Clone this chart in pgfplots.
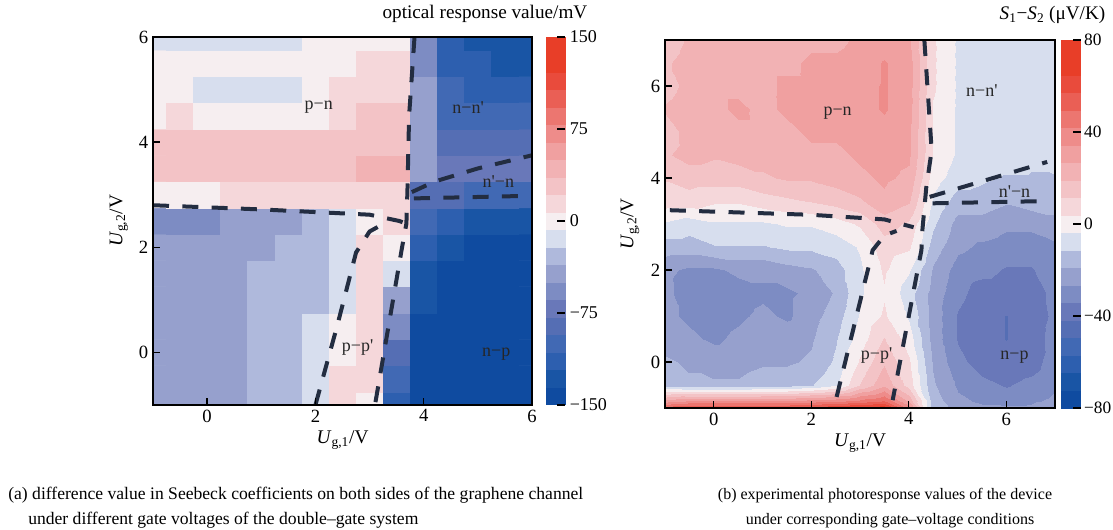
\documentclass[border=0pt]{standalone}
\usepackage{fontspec}
\setmainfont{Liberation Serif}
\usepackage{pgfplots}
\pgfplotsset{compat=1.18}
\definecolor{navy}{RGB}{35,45,65}
\pgfplotsset{colormap={rb}{rgb255=(15,75,160) rgb255=(25,85,165) rgb255=(45,95,175) rgb255=(65,105,180) rgb255=(85,110,180) rgb255=(105,120,185) rgb255=(125,140,195) rgb255=(150,160,205) rgb255=(175,185,220) rgb255=(215,222,238) rgb255=(246,238,240) rgb255=(245,215,218) rgb255=(243,195,198) rgb255=(242,178,180) rgb255=(240,160,160) rgb255=(238,140,138) rgb255=(236,118,112) rgb255=(234,95,85) rgb255=(233,75,60) rgb255=(232,62,40) rgb255=(232,62,40)}}
\tikzset{rl/.style={font=\fontsize{13.5}{15}\selectfont, text=black!85}}
\newcommand{\q}{\textquotesingle}
\newcommand{\lf}{\fontsize{14.5}{16}\selectfont}
\pgfplotsset{
 heat/.style={scale only axis, enlargelimits=false, axis on top,
  axis line style={line width=1.2pt}, tick align=inside, xtick pos=bottom, ytick pos=left,
  major tick length=5pt, tick style={black, line width=1pt},
  ticklabel style={font=\fontsize{14}{16}\selectfont},
  colormap name=rb, colormap access=piecewise constant,
  colorbar, colorbar shift/.style={xshift=3.75pt},
  xtick={0,2,4,6}, xticklabels={0,2,4,6}, ytick={0,2,4,6}, yticklabels={0,2,4,6},
  xlabel={\lf\textit{U}\textsubscript{g,1}/V}, ylabel={\lf\textit{U}\textsubscript{g,2}/V},
  every axis x label/.style={at={(axis description cs:0.5,-0.095)}, anchor=center, font=\lf},
 },
 dl/.style={draw=navy, line width=3pt, dash pattern=on 12pt off 10pt, no marks},
}
\begin{document}
\begin{tikzpicture}
\path[use as bounding box] (0,0) rectangle (834.75pt,-397.5pt);
% ---------------- (a) ----------------
\begin{axis}[heat, at={(114.75pt,-303.75pt)}, anchor=south west, width=284.25pt, height=276pt,
  xmin=-1, xmax=6, ymin=-1, ymax=6, point meta min=-150, point meta max=150,
  every axis y label/.style={at={(axis description cs:-0.09,0.5)}, rotate=90, anchor=center, font=\lf},
  colorbar style={width=14.25pt, ytick={-150,-75,0,75,150}, yticklabels={−150,−75,0,75,150},
    ytick pos=right, tick align=inside, major tick length=6pt, tick style={black, line width=1.2pt},
    yticklabel style={font=\fontsize{13.5}{16}\selectfont}, axis line style={draw=none}}]
\addplot[matrix plot*, mesh/cols=15, point meta=explicit] table[row sep=\\, meta=z]{x y z\\
-1 -1 -45\\ -0.5 -1 -48\\ 0 -1 -45\\ 0.5 -1 -45\\ 1 -1 -32\\ 1.5 -1 -30\\ 2 -1 -15\\ 2.5 -1 10\\ 3 -1 5\\ 3.5 -1 -110\\ 4 -1 -145\\ 4.5 -1 -148\\ 5 -1 -148\\ 5.5 -1 -148\\ 6 -1 -148\\
-1 -0.5 -45\\ -0.5 -0.5 -45\\ 0 -0.5 -45\\ 0.5 -0.5 -45\\ 1 -0.5 -32\\ 1.5 -0.5 -30\\ 2 -0.5 -15\\ 2.5 -0.5 8\\ 3 -0.5 12\\ 3.5 -0.5 -100\\ 4 -0.5 -145\\ 4.5 -0.5 -148\\ 5 -0.5 -148\\ 5.5 -0.5 -148\\ 6 -0.5 -148\\
-1 0 -45\\ -0.5 0 -45\\ 0 0 -45\\ 0.5 0 -45\\ 1 0 -32\\ 1.5 0 -28\\ 2 0 -18\\ 2.5 0 0\\ 3 0 15\\ 3.5 0 -80\\ 4 0 -145\\ 4.5 0 -148\\ 5 0 -148\\ 5.5 0 -148\\ 6 0 -148\\
-1 0.5 -45\\ -0.5 0.5 -45\\ 0 0.5 -45\\ 0.5 0.5 -45\\ 1 0.5 -32\\ 1.5 0.5 -28\\ 2 0.5 -20\\ 2.5 0.5 -5\\ 3 0.5 18\\ 3.5 0.5 -60\\ 4 0.5 -140\\ 4.5 0.5 -148\\ 5 0.5 -148\\ 5.5 0.5 -148\\ 6 0.5 -148\\
-1 1 -45\\ -0.5 1 -45\\ 0 1 -45\\ 0.5 1 -45\\ 1 1 -32\\ 1.5 1 -28\\ 2 1 -22\\ 2.5 1 -8\\ 3 1 18\\ 3.5 1 -40\\ 4 1 -135\\ 4.5 1 -145\\ 5 1 -145\\ 5.5 1 -148\\ 6 1 -148\\
-1 1.5 -45\\ -0.5 1.5 -45\\ 0 1.5 -45\\ 0.5 1.5 -45\\ 1 1.5 -35\\ 1.5 1.5 -30\\ 2 1.5 -22\\ 2.5 1.5 -12\\ 3 1.5 15\\ 3.5 1.5 -15\\ 4 1.5 -125\\ 4.5 1.5 -140\\ 5 1.5 -145\\ 5.5 1.5 -145\\ 6 1.5 -145\\
-1 2 -50\\ -0.5 2 -50\\ 0 2 -48\\ 0.5 2 -45\\ 1 2 -38\\ 1.5 2 -32\\ 2 2 -25\\ 2.5 2 -15\\ 3 2 10\\ 3.5 2 5\\ 4 2 -110\\ 4.5 2 -135\\ 5 2 -138\\ 5.5 2 -140\\ 6 2 -140\\
-1 2.5 -55\\ -0.5 2.5 -58\\ 0 2.5 -55\\ 0.5 2.5 -50\\ 1 2.5 -42\\ 1.5 2.5 -38\\ 2 2.5 -30\\ 2.5 2.5 -15\\ 3 2.5 5\\ 3.5 2.5 10\\ 4 2.5 -100\\ 4.5 2.5 -120\\ 5 2.5 -125\\ 5.5 2.5 -128\\ 6 2.5 -130\\
-1 3 5\\ -0.5 3 5\\ 0 3 5\\ 0.5 3 8\\ 1 3 10\\ 1.5 3 10\\ 2 3 12\\ 2.5 3 15\\ 3 3 20\\ 3.5 3 20\\ 4 3 -85\\ 4.5 3 -90\\ 5 3 -95\\ 5.5 3 -95\\ 6 3 -95\\
-1 3.5 30\\ -0.5 3.5 30\\ 0 3.5 30\\ 0.5 3.5 30\\ 1 3.5 30\\ 1.5 3.5 30\\ 2 3.5 32\\ 2.5 3.5 35\\ 3 3.5 42\\ 3.5 3.5 40\\ 4 3.5 -45\\ 4.5 3.5 -70\\ 5 3.5 -72\\ 5.5 3.5 -75\\ 6 3.5 -75\\
-1 4 25\\ -0.5 4 25\\ 0 4 25\\ 0.5 4 25\\ 1 4 25\\ 1.5 4 25\\ 2 4 28\\ 2.5 4 30\\ 3 4 35\\ 3.5 4 35\\ 4 4 -40\\ 4.5 4 -80\\ 5 4 -85\\ 5.5 4 -85\\ 6 4 -85\\
-1 4.5 5\\ -0.5 4.5 8\\ 0 4.5 5\\ 0.5 4.5 5\\ 1 4.5 5\\ 1.5 4.5 5\\ 2 4.5 5\\ 2.5 4.5 15\\ 3 4.5 25\\ 3.5 4.5 30\\ 4 4.5 -45\\ 4.5 4.5 -95\\ 5 4.5 -100\\ 5.5 4.5 -100\\ 6 4.5 -100\\
-1 5 3\\ -0.5 5 -5\\ 0 5 -8\\ 0.5 5 -8\\ 1 5 -8\\ 1.5 5 -8\\ 2 5 3\\ 2.5 5 10\\ 3 5 15\\ 3.5 5 18\\ 4 5 -50\\ 4.5 5 -105\\ 5 5 -110\\ 5.5 5 -115\\ 6 5 -115\\
-1 5.5 3\\ -0.5 5.5 3\\ 0 5.5 3\\ 0.5 5.5 3\\ 1 5.5 3\\ 1.5 5.5 3\\ 2 5.5 3\\ 2.5 5.5 5\\ 3 5.5 10\\ 3.5 5.5 12\\ 4 5.5 -55\\ 4.5 5.5 -110\\ 5 5.5 -120\\ 5.5 5.5 -125\\ 6 5.5 -128\\
-1 6 -10\\ -0.5 6 -10\\ 0 6 -10\\ 0.5 6 -10\\ 1 6 -10\\ 1.5 6 -8\\ 2 6 -5\\ 2.5 6 3\\ 3 6 3\\ 3.5 6 3\\ 4 6 -60\\ 4.5 6 -115\\ 5 6 -125\\ 5.5 6 -135\\ 6 6 -135\\
};
\addplot[dl] coordinates {(-1,2.8) (1,2.72) (3,2.62) (3.55,2.5) (3.68,2.45)};
\addplot[dl] coordinates {(3.83,6) (3.73,4.5) (3.7,3.1) (3.68,2.45) (3.6,2.0) (3.35,0.5) (3.1,-1)};
\addplot[dl] coordinates {(2.0,-1) (2.4,0.5) (2.75,1.9) (3.0,2.3) (3.35,2.5)};
\addplot[dl] coordinates {(3.78,3.05) (4.2,3.25) (5,3.5) (6,3.75)};
\addplot[dl] coordinates {(3.82,2.93) (6,2.98)};
\node[rl] at (axis cs:2.06,4.66) {p−n};
\node[rl] at (axis cs:4.82,4.66) {n−n\q};
\node[rl] at (axis cs:5.38,3.25) {n\q−n};
\node[rl] at (axis cs:2.78,0.1) {p−p\q};
\node[rl] at (axis cs:5.34,-0.04) {n−p};
\end{axis}
\node[anchor=base east, font=\fontsize{14.4}{16}\selectfont] at (444pt,-14.25pt) {optical response value/mV};
% ---------------- (b) ----------------
\begin{axis}[heat, at={(498.75pt,-306pt)}, anchor=south west, width=292.5pt, height=276pt,
  xmin=-1, xmax=7, ymin=-1, ymax=7, point meta min=-80, point meta max=80,
  every axis y label/.style={at={(axis description cs:-0.09,0.5)}, rotate=90, anchor=center, font=\lf},
  colorbar style={width=15pt, ytick={-80,-40,0,40,80}, yticklabels={−80,−40,0,40,80},
    ytick pos=right, tick align=inside, major tick length=6pt, tick style={black, line width=1.2pt},
    yticklabel style={font=\fontsize{13}{16}\selectfont, xshift=-1pt}, axis line style={draw=none}}]
\addplot[surf, shader=interp, mesh/cols=17, point meta=explicit] table[row sep=\\, meta=z]{x y z\\
-1 -1 55\\ -0.5 -1 60\\ 0 -1 60\\ 0.5 -1 60\\ 1 -1 60\\ 1.5 -1 60\\ 2 -1 62\\ 2.5 -1 65\\ 3 -1 70\\ 3.5 -1 72\\ 4 -1 40\\ 4.5 -1 -15\\ 5 -1 -22\\ 5.5 -1 -25\\ 6 -1 -25\\ 6.5 -1 -25\\ 7 -1 -20\\
-1 -0.85 30\\ -0.5 -0.85 35\\ 0 -0.85 35\\ 0.5 -0.85 35\\ 1 -0.85 35\\ 1.5 -0.85 35\\ 2 -0.85 38\\ 2.5 -0.85 40\\ 3 -0.85 45\\ 3.5 -0.85 50\\ 4 -0.85 25\\ 4.5 -0.85 -15\\ 5 -0.85 -25\\ 5.5 -0.85 -28\\ 6 -0.85 -30\\ 6.5 -0.85 -28\\ 7 -0.85 -25\\
-1 -0.5 -15\\ -0.5 -0.5 -18\\ 0 -0.5 -18\\ 0.5 -0.5 -18\\ 1 -0.5 -15\\ 1.5 -0.5 -15\\ 2 -0.5 -12\\ 2.5 -0.5 -5\\ 3 -0.5 12\\ 3.5 -0.5 25\\ 4 -0.5 8\\ 4.5 -0.5 -18\\ 5 -0.5 -28\\ 5.5 -0.5 -32\\ 6 -0.5 -35\\ 6.5 -0.5 -32\\ 7 -0.5 -28\\
-1 0 -18\\ -0.5 0 -20\\ 0 0 -22\\ 0.5 0 -22\\ 1 0 -20\\ 1.5 0 -20\\ 2 0 -18\\ 2.5 0 -10\\ 3 0 5\\ 3.5 0 18\\ 4 0 5\\ 4.5 0 -20\\ 5 0 -32\\ 5.5 0 -38\\ 6 0 -40\\ 6.5 0 -38\\ 7 0 -30\\
-1 0.5 -22\\ -0.5 0.5 -25\\ 0 0.5 -28\\ 0.5 0.5 -25\\ 1 0.5 -22\\ 1.5 0.5 -22\\ 2 0.5 -20\\ 2.5 0.5 -12\\ 3 0.5 0\\ 3.5 0.5 12\\ 4 0.5 0\\ 4.5 0.5 -22\\ 5 0.5 -35\\ 5.5 0.5 -40\\ 6 0.5 -42\\ 6.5 0.5 -40\\ 7 0.5 -30\\
-1 1 -25\\ -0.5 1 -28\\ 0 1 -30\\ 0.5 1 -28\\ 1 1 -25\\ 1.5 1 -28\\ 2 1 -22\\ 2.5 1 -15\\ 3 1 -3\\ 3.5 1 5\\ 4 1 -5\\ 4.5 1 -22\\ 5 1 -35\\ 5.5 1 -40\\ 6 1 -42\\ 6.5 1 -40\\ 7 1 -32\\
-1 1.5 -25\\ -0.5 1.5 -30\\ 0 1.5 -32\\ 0.5 1.5 -30\\ 1 1.5 -28\\ 1.5 1.5 -28\\ 2 1.5 -25\\ 2.5 1.5 -18\\ 3 1.5 -5\\ 3.5 1.5 3\\ 4 1.5 -8\\ 4.5 1.5 -22\\ 5 1.5 -32\\ 5.5 1.5 -38\\ 6 1.5 -38\\ 6.5 1.5 -38\\ 7 1.5 -32\\
-1 2 -25\\ -0.5 2 -28\\ 0 2 -28\\ 0.5 2 -25\\ 1 2 -25\\ 1.5 2 -22\\ 2 2 -20\\ 2.5 2 -15\\ 3 2 -5\\ 3.5 2 5\\ 4 2 -3\\ 4.5 2 -20\\ 5 2 -30\\ 5.5 2 -32\\ 6 2 -35\\ 6.5 2 -35\\ 7 2 -30\\
-1 2.5 -15\\ -0.5 2.5 -15\\ 0 2.5 -12\\ 0.5 2.5 -12\\ 1 2.5 -12\\ 1.5 2.5 -10\\ 2 2.5 -10\\ 2.5 2.5 -8\\ 3 2.5 -3\\ 3.5 2.5 8\\ 4 2.5 5\\ 4.5 2.5 -15\\ 5 2.5 -25\\ 5.5 2.5 -28\\ 6 2.5 -30\\ 6.5 2.5 -30\\ 7 2.5 -28\\
-1 3 -5\\ -0.5 3 -8\\ 0 3 -5\\ 0.5 3 -5\\ 1 3 -5\\ 1.5 3 -3\\ 2 3 -3\\ 2.5 3 0\\ 3 3 5\\ 3.5 3 15\\ 4 3 10\\ 4.5 3 -10\\ 5 3 -22\\ 5.5 3 -22\\ 6 3 -25\\ 6.5 3 -25\\ 7 3 -22\\
-1 3.5 8\\ -0.5 3.5 8\\ 0 3.5 5\\ 0.5 3.5 5\\ 1 3.5 8\\ 1.5 3.5 10\\ 2 3.5 12\\ 2.5 3.5 15\\ 3 3.5 18\\ 3.5 3.5 25\\ 4 3.5 20\\ 4.5 3.5 -5\\ 5 3.5 -15\\ 5.5 3.5 -15\\ 6 3.5 -18\\ 6.5 3.5 -15\\ 7 3.5 -15\\
-1 4 12\\ -0.5 4 15\\ 0 4 15\\ 0.5 4 15\\ 1 4 18\\ 1.5 4 20\\ 2 4 20\\ 2.5 4 22\\ 3 4 25\\ 3.5 4 28\\ 4 4 25\\ 4.5 4 0\\ 5 4 -8\\ 5.5 4 -10\\ 6 4 -12\\ 6.5 4 -12\\ 7 4 -12\\
-1 4.5 18\\ -0.5 4.5 22\\ 0 4.5 20\\ 0.5 4.5 22\\ 1 4.5 22\\ 1.5 4.5 22\\ 2 4.5 25\\ 2.5 4.5 25\\ 3 4.5 28\\ 3.5 4.5 30\\ 4 4.5 28\\ 4.5 4.5 3\\ 5 4.5 -5\\ 5.5 4.5 -8\\ 6 4.5 -8\\ 6.5 4.5 -10\\ 7 4.5 -8\\
-1 5 15\\ -0.5 5 22\\ 0 5 22\\ 0.5 5 25\\ 1 5 25\\ 1.5 5 25\\ 2 5 28\\ 2.5 5 28\\ 3 5 30\\ 3.5 5 32\\ 4 5 28\\ 4.5 5 3\\ 5 5 -5\\ 5.5 5 -5\\ 6 5 -10\\ 6.5 5 -8\\ 7 5 -5\\
-1 5.5 20\\ -0.5 5.5 25\\ 0 5.5 25\\ 0.5 5.5 28\\ 1 5.5 25\\ 1.5 5.5 28\\ 2 5.5 30\\ 2.5 5.5 30\\ 3 5.5 32\\ 3.5 5.5 35\\ 4 5.5 30\\ 4.5 5.5 3\\ 5 5.5 -5\\ 5.5 5.5 -8\\ 6 5.5 -8\\ 6.5 5.5 -8\\ 7 5.5 -5\\
-1 6 15\\ -0.5 6 22\\ 0 6 25\\ 0.5 6 25\\ 1 6 25\\ 1.5 6 28\\ 2 6 28\\ 2.5 6 30\\ 3 6 32\\ 3.5 6 35\\ 4 6 30\\ 4.5 6 5\\ 5 6 -5\\ 5.5 6 -8\\ 6 6 -8\\ 6.5 6 -5\\ 7 6 -5\\
-1 6.5 18\\ -0.5 6.5 22\\ 0 6.5 25\\ 0.5 6.5 25\\ 1 6.5 25\\ 1.5 6.5 25\\ 2 6.5 28\\ 2.5 6.5 28\\ 3 6.5 30\\ 3.5 6.5 35\\ 4 6.5 30\\ 4.5 6.5 5\\ 5 6.5 -5\\ 5.5 6.5 -8\\ 6 6.5 -5\\ 6.5 6.5 -8\\ 7 6.5 -8\\
-1 7 15\\ -0.5 7 20\\ 0 7 22\\ 0.5 7 22\\ 1 7 22\\ 1.5 7 22\\ 2 7 25\\ 2.5 7 25\\ 3 7 28\\ 3.5 7 30\\ 4 7 28\\ 4.5 7 5\\ 5 7 -5\\ 5.5 7 -5\\ 6 7 -5\\ 6.5 7 -5\\ 7 7 -5\\
};
\addplot[dl] coordinates {(-0.9,3.3) (2,3.2) (3.5,3.1) (3.85,3.0) (4.1,2.93)};
\addplot[dl] coordinates {(4.32,7) (4.47,4.6) (4.36,3.8) (4.28,2.87) (4.26,2.43) (3.67,-0.83)};
\addplot[dl] coordinates {(2.52,-0.76) (3.26,2.43) (3.5,2.75) (3.75,2.85)};
\addplot[dl] coordinates {(4.43,3.59) (6.84,4.35)};
\addplot[dl] coordinates {(4.49,3.45) (6.89,3.5)};
\node[rl] at (axis cs:2.54,5.4) {p−n};
\node[rl] at (axis cs:5.5,5.9) {n−n\q};
\node[rl] at (axis cs:6.17,3.7) {n\q−n};
\node[rl] at (axis cs:3.34,0.15) {p−p\q};
\node[rl] at (axis cs:6.17,0.1) {n−p};
\end{axis}
\node[anchor=base east, font=\fontsize{14.4}{16}\selectfont] at (832.5pt,-15pt) {\textit{S}\textsubscript{1}−\textit{S}\textsubscript{2} (μV/K)};
% captions
\node[anchor=base west, font=\fontsize{13.2}{14}\selectfont, inner sep=0pt] at (6pt,-374.25pt) {(a) difference value in Seebeck coefficients on both sides of the graphene channel};
\node[anchor=base west, font=\fontsize{13.2}{14}\selectfont, inner sep=0pt] at (21pt,-393pt) {under different gate voltages of the double–gate system};
\node[anchor=base, font=\fontsize{12}{14}\selectfont, inner sep=0pt] at (663.75pt,-374.25pt) {(b) experimental photoresponse values of the device};
\node[anchor=base, font=\fontsize{12}{14}\selectfont, inner sep=0pt] at (667.5pt,-393pt) {under corresponding gate–voltage conditions};
\end{tikzpicture}
\end{document}
